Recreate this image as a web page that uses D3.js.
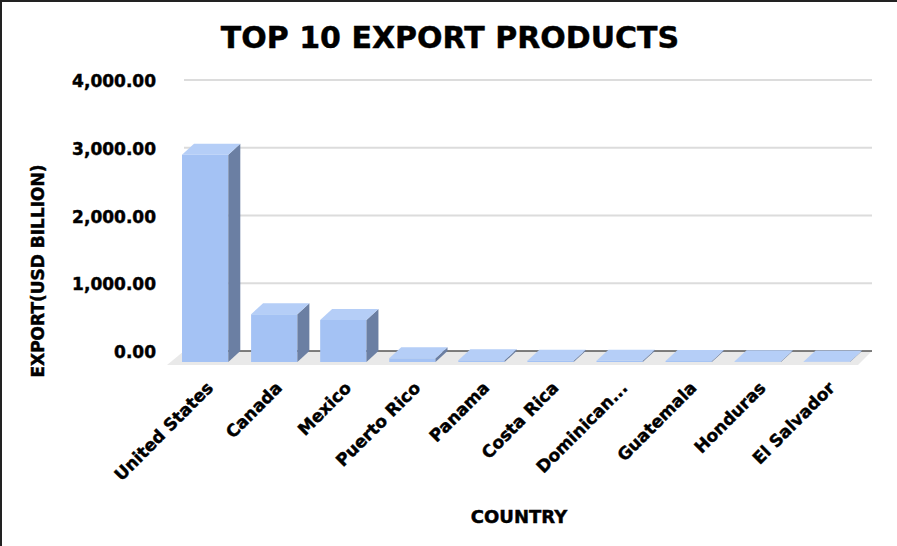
<!DOCTYPE html>
<html>
<head>
<meta charset="utf-8">
<script src="https://cdn.jsdelivr.net/npm/d3@7/dist/d3.min.js"></script>
<style>
  html, body { margin: 0; padding: 0; background: #fff; }
  svg { display: block; }
  text { font-family: "DejaVu Sans", Verdana, sans-serif; font-weight: bold; fill: #000; stroke: #000; stroke-width: 0.45px; }
</style>
</head>
<body>
<svg id="chart" width="897" height="546"></svg>
<script>
const categories = ["United States", "Canada", "Mexico", "Puerto Rico", "Panama",
  "Costa Rica", "Dominican...", "Guatemala", "Honduras", "El Salvador"];
const exportValues = [3060, 705, 620, 55, 25, 20, 18, 14, 10, 8];
const yTicks = [0, 1000, 2000, 3000, 4000];
const titleText = "TOP 10 EXPORT PRODUCTS";
const xTitle = "COUNTRY";
const yTitle = "EXPORT(USD BILLION)";

const W = 897, H = 546;
const svg = d3.select("#chart");
const depthX = 12, depthY = 11;
const backLeft = 184, backRight = 872;
const backBase = 351;

const yBack = d3.scaleLinear().domain([0, 4000]).range([backBase, 80]);
const yFront = v => yBack(v) + depthY;

const x = d3.scaleBand()
  .domain(categories)
  .range([backLeft - depthX, backRight - depthX])
  .paddingInner(0.33)
  .paddingOuter(0.145);

// border
svg.append("rect").attr("x", 0).attr("y", 0).attr("width", W).attr("height", H).attr("fill", "#fff");
svg.append("rect").attr("x", 0).attr("y", 0).attr("width", W).attr("height", 2).attr("fill", "#222");
svg.append("rect").attr("x", 0).attr("y", 0).attr("width", 2).attr("height", H).attr("fill", "#222");

// title
svg.append("text").attr("x", 450).attr("y", 48).attr("text-anchor", "middle")
  .style("font-size", "30px").text(titleText);

// gridlines (back wall)
svg.append("g").selectAll("line").data(yTicks.filter(t => t !== 0)).join("line")
  .attr("x1", backLeft).attr("x2", backRight)
  .attr("y1", d => yBack(d)).attr("y2", d => yBack(d))
  .attr("stroke", "#dcdcdc").attr("stroke-width", 2);

// floor
const floorPts = [[backLeft, backBase], [backRight, backBase],
  [backRight - depthX - 2, backBase + depthY + 3], [backLeft - depthX - 5, backBase + depthY + 3]];
svg.append("polygon").attr("points", floorPts.map(p => p.join(",")).join(" "))
  .attr("fill", "#e9e9e9");

// zero line
svg.append("line").attr("x1", backLeft).attr("x2", backRight)
  .attr("y1", yBack(0)).attr("y2", yBack(0))
  .attr("stroke", "#555").attr("stroke-width", 1.5);

// y tick labels
svg.append("g").selectAll("text").data(yTicks).join("text")
  .attr("x", 156).attr("y", d => yBack(d) + 1)
  .attr("text-anchor", "end").attr("dominant-baseline", "central")
  .style("font-size", "17px")
  .text(d => d3.format(",.2f")(d));

// bars
const bars = svg.append("g").selectAll("g").data(categories).join("g");
bars.each(function(c, i) {
  const g = d3.select(this);
  const v = exportValues[i];
  const x0 = x(c), w = x.bandwidth();
  const yt = yFront(v), yb = yFront(0);
  g.append("rect").attr("x", x0).attr("y", yt).attr("width", w).attr("height", Math.max(0, yb - yt))
    .attr("fill", "#a4c2f4");
  g.append("polygon").attr("points", [
    [x0 + w, yt], [x0 + w + depthX, yt - depthY], [x0 + w + depthX, yb - depthY], [x0 + w, yb]
  ].map(p => p.join(",")).join(" ")).attr("fill", "#6b7fa3");
  g.append("polygon").attr("points", [
    [x0, yt], [x0 + depthX, yt - depthY], [x0 + w + depthX, yt - depthY], [x0 + w, yt]
  ].map(p => p.join(",")).join(" ")).attr("fill", "#b5cef7");
});

// x tick labels
svg.append("g").selectAll("text").data(categories).join("text")
  .attr("text-anchor", "end")
  .attr("transform", d => `translate(${x(d) + x.bandwidth() / 2 + 9},${389}) rotate(-45)`)
  .style("font-size", "17px")
  .text(d => d);

// axis titles
svg.append("text").attr("x", 519).attr("y", 523).attr("text-anchor", "middle")
  .style("font-size", "18px").text(xTitle);
svg.append("text").attr("transform", "translate(44,271) rotate(-90)")
  .attr("text-anchor", "middle").style("font-size", "17px").text(yTitle);
</script>
</body>
</html>
